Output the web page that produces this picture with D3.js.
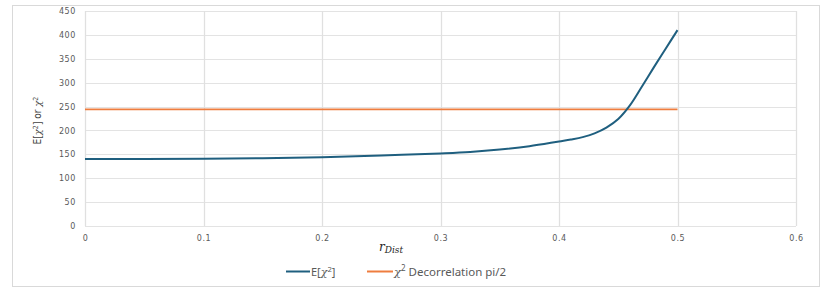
<!DOCTYPE html>
<html>
<head>
<meta charset="utf-8">
<script src="https://cdn.jsdelivr.net/npm/d3@7"></script>
<style>
  body { margin: 0; background: #fff; }
  text { font-family: "Noto Sans", "DejaVu Sans", sans-serif; }
</style>
</head>
<body>
<div id="chart"></div>
<script>
// data
var rDist = [0, 0.05, 0.1, 0.15, 0.2, 0.25, 0.3, 0.325, 0.35, 0.375, 0.4, 0.41, 0.42, 0.43, 0.44, 0.45, 0.46, 0.47, 0.48, 0.49, 0.5];
var expChi2 = [140, 140.2, 140.8, 142, 144, 147.5, 152, 155, 160, 167, 177, 181, 186, 194, 206, 224, 253, 292, 332, 371, 410];
var decorrX = [0, 0.5];
var decorrY = [244, 244];
var xTicks = [0, 0.1, 0.2, 0.3, 0.4, 0.5, 0.6];
var yTicks = [0, 50, 100, 150, 200, 250, 300, 350, 400, 450];
var seriesColors = ["#1f5f7f", "#ee7d3f"];

var w = 829, h = 292;
var margin = {left: 85, right: 33, top: 11, bottom: 66};

var svg = d3.select('#chart')
    .append('svg')
    .attr('width', w)
    .attr('height', h);

// chart border
svg.append('rect')
    .attr('x', 12.5).attr('y', 5.5)
    .attr('width', 807).attr('height', 281)
    .attr('fill', 'none')
    .attr('stroke', '#d9d9d9');

var x = d3.scaleLinear().domain([0, 0.6]).range([margin.left, w - margin.right]);
var y = d3.scaleLinear().domain([0, 450]).range([h - margin.bottom, margin.top]);

// gridlines
svg.append('g')
    .selectAll('line')
    .data(yTicks)
    .enter()
    .append('line')
    .attr('x1', x(0)).attr('x2', x(0.6))
    .attr('y1', d => Math.round(y(d)) + 0.5)
    .attr('y2', d => Math.round(y(d)) + 0.5)
    .attr('stroke', '#e3e3e3');

svg.append('g')
    .selectAll('line')
    .data(xTicks)
    .enter()
    .append('line')
    .attr('x1', d => Math.round(x(d)) + 0.5)
    .attr('x2', d => Math.round(x(d)) + 0.5)
    .attr('y1', y(0)).attr('y2', y(450))
    .attr('stroke', '#e0e0e0')
    .attr('stroke-width', 1.3);

// axes (labels only)
var yAxis = svg.append('g')
    .attr('transform', 'translate(' + (x(0) - 9) + ',0)')
    .call(d3.axisLeft(y).tickValues(yTicks).tickSize(0).tickPadding(0));
yAxis.select('.domain').remove();

var xAxis = svg.append('g')
    .attr('transform', 'translate(0,' + (y(0) + 9) + ')')
    .call(d3.axisBottom(x).tickValues(xTicks).tickSize(0).tickPadding(0)
        .tickFormat(d => d === 0 ? '0' : d3.format('.1f')(d)));
xAxis.select('.domain').remove();

svg.selectAll('.tick text')
    .attr('fill', '#595959')
    .style('font-size', '8px')
    .style('font-family', '"DejaVu Sans", sans-serif')
    .style('letter-spacing', '0.6px');

// helper: italic chi with superscript 2, then the following text back on the baseline
function chi(sel, size, after) {
    sel.append('tspan').style('font-family', '"DejaVu Serif", serif')
        .style('font-style', 'italic').style('font-size', size + 'px').text('\u03C7');
    sel.append('tspan').style('font-size', (size * 0.7) + 'px')
        .attr('dy', -size * 0.35).text('2');
    if (after) sel.append('tspan').attr('dy', size * 0.35).text(after);
}

// axis titles
var yt = svg.append('text')
    .attr('transform', 'translate(41,' + (y(225) + 2) + ') rotate(-90)')
    .attr('text-anchor', 'middle')
    .attr('fill', '#404040')
    .style('font-size', '10px')
    .style('font-family', '"Liberation Sans Narrow", "DejaVu Sans Condensed", sans-serif');
yt.append('tspan').text('E[');
chi(yt, 10, '] or ');
chi(yt, 10);

var xt = svg.append('text')
    .attr('x', 379).attr('y', 251)
    .attr('fill', '#262626')
    .style('font-family', '"DejaVu Serif", serif')
    .style('font-style', 'italic');
xt.append('tspan').style('font-size', '12px').text('r');
xt.append('tspan').style('font-size', '9px').attr('dy', 2).text('Dist');

// series
var line = d3.line()
    .x(d => x(d[0]))
    .y(d => y(d[1]))
    .curve(d3.curveCatmullRom);

svg.append('path')
    .datum(decorrX.map((d, i) => [d, decorrY[i]]))
    .attr('d', line)
    .attr('fill', 'none')
    .attr('stroke', seriesColors[1])
    .attr('stroke-width', 1.8);

svg.append('path')
    .datum(rDist.map((d, i) => [d, expChi2[i]]))
    .attr('d', line)
    .attr('fill', 'none')
    .attr('stroke', seriesColors[0])
    .attr('stroke-width', 2);

// legend
var ly = 271.5;
var l1 = svg.append('g').attr('transform', 'translate(286,' + ly + ')');
l1.append('line').attr('x1', 0).attr('x2', 24)
    .attr('stroke', seriesColors[0]).attr('stroke-width', 2);
var t1 = l1.append('text').attr('x', 25).attr('y', 4)
    .attr('fill', '#595959').style('font-size', '11px');
t1.append('tspan').text('E[');
chi(t1, 11, ']');

var l2 = svg.append('g').attr('transform', 'translate(367,' + ly + ')');
l2.append('line').attr('x1', 0).attr('x2', 26)
    .attr('stroke', seriesColors[1]).attr('stroke-width', 2);
var t2 = l2.append('text').attr('x', 27).attr('y', 4)
    .attr('fill', '#595959').style('font-size', '11.5px');
chi(t2, 11.5, ' Decorrelation pi/2');
</script>
</body>
</html>
